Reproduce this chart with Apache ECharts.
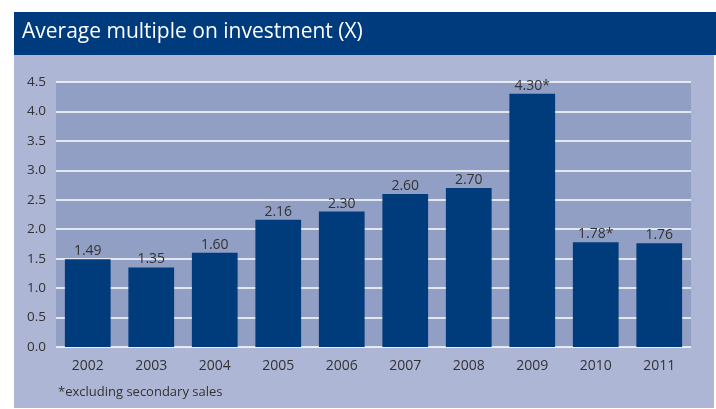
<!DOCTYPE html>
<html>
<head>
    <meta charset="utf-8">
    <style>
        html, body { margin: 0; padding: 0; background: #fff; }
        #main { width: 716px; height: 409px; }
    </style>
</head>
<body>
    <div id="main"></div>
    <script src="https://cdn.jsdelivr.net/npm/echarts@6/dist/echarts.min.js"></script>
    <script>
        var years = ['2002', '2003', '2004', '2005', '2006', '2007', '2008', '2009', '2010', '2011'];
        var multiples = [1.49, 1.35, 1.60, 2.16, 2.30, 2.60, 2.70, 4.30, 1.78, 1.76];
        var valueLabels = ['1.49', '1.35', '1.60', '2.16', '2.30', '2.60', '2.70', '4.30*', '1.78*', '1.76'];

        var font = '"Open Sans", sans-serif';
        var chart = echarts.init(document.getElementById('main'));

        chart.setOption({
            backgroundColor: '#fff',
            animation: false,
            graphic: [
                { type: 'rect', shape: { x: 14, y: 12, width: 702, height: 43 }, style: { fill: '#003c7d' }, z: -10 },
                { type: 'rect', shape: { x: 14, y: 55, width: 700, height: 353 }, style: { fill: '#adb6d4' }, z: -10 },
                {
                    type: 'text', left: 22, top: 22,
                    style: { text: 'Average multiple on investment (X)', fill: '#fff', font: '21px ' + font }
                },
                {
                    type: 'text', left: 58, top: 386,
                    style: { text: '*excluding secondary sales', fill: '#333', font: '13px ' + font }
                }
            ],
            grid: {
                left: 56, right: 25, top: 82, bottom: 62,
                show: true, backgroundColor: '#919fc4', borderWidth: 0
            },
            xAxis: {
                type: 'category',
                data: years,
                axisLine: { show: false },
                axisTick: { show: false },
                axisLabel: { color: '#333', fontSize: 14, fontFamily: font, margin: 12 }
            },
            yAxis: {
                type: 'value',
                min: 0, max: 4.5, interval: 0.5,
                axisLine: { show: false },
                axisTick: { show: false },
                splitLine: { lineStyle: { color: '#ffffff', width: 1.5 } },
                axisLabel: {
                    color: '#333', fontSize: 13.5, fontFamily: font, margin: 10,
                    formatter: function (v) { return v.toFixed(1); }
                }
            },
            series: [{
                type: 'bar',
                data: multiples,
                barWidth: '72%',
                itemStyle: { color: '#003b7b' },
                label: {
                    show: true, position: 'top', distance: 1,
                    color: '#333', fontSize: 14, fontFamily: font,
                    formatter: function (p) { return valueLabels[p.dataIndex]; }
                }
            }]
        });
    </script>
</body>
</html>
